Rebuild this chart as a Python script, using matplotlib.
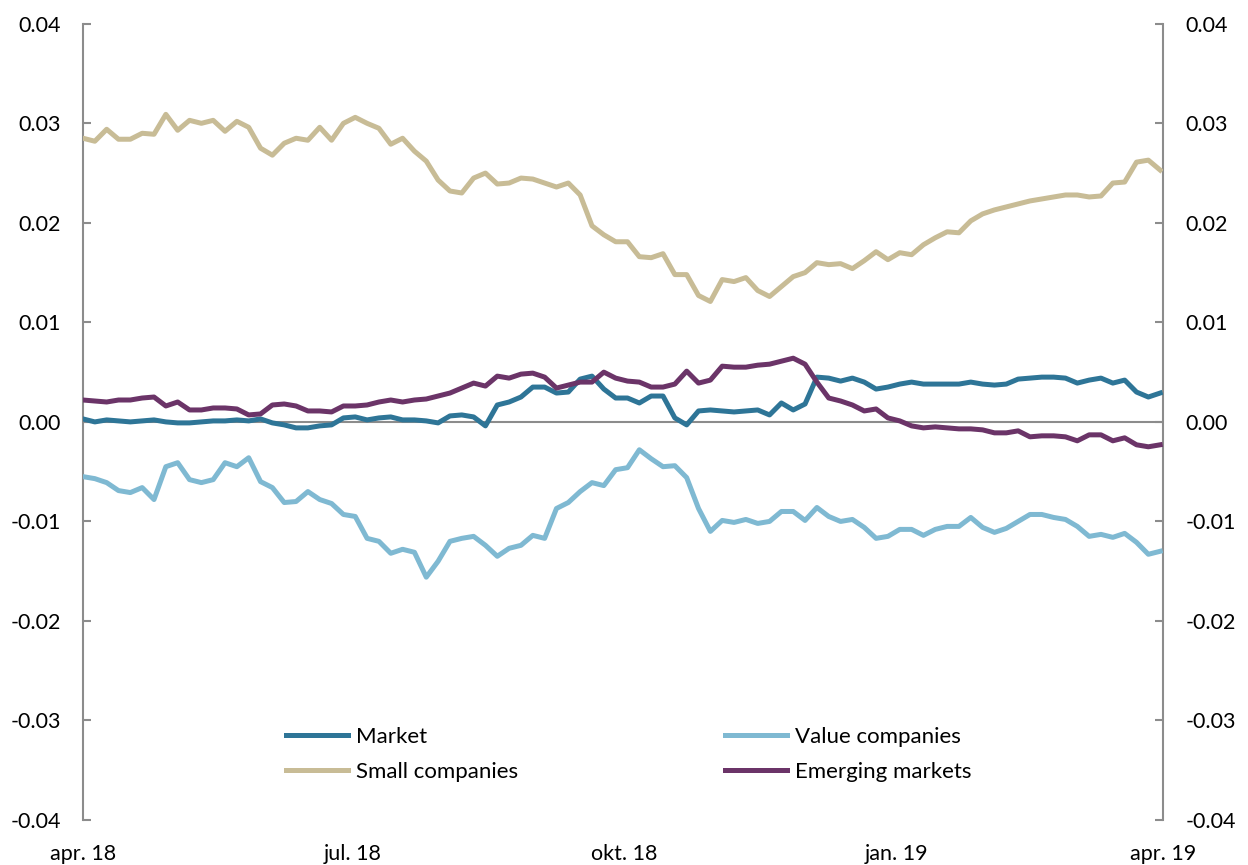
import matplotlib
matplotlib.use('Agg')
import matplotlib.pyplot as plt
import matplotlib.ticker as mticker
import pandas as pd

plt.rcParams['font.family'] = ['Lato', 'DejaVu Sans']

# one point every 4 days, apr. 2018 - mar. 2019
dates = pd.date_range('2018-04-01', periods=92, freq='4D')

market = [
    0.0003, 0.0000, 0.0002, 0.0001, 0.0000, 0.0001, 0.0002, 0.0000, -0.0001, -0.0001,
    0.0000, 0.0001, 0.0001, 0.0002, 0.0001, 0.0003, -0.0001, -0.0003, -0.0006, -0.0006,
    -0.0004, -0.0003, 0.0004, 0.0005, 0.0002, 0.0004, 0.0005, 0.0002, 0.0002, 0.0001,
    -0.0001, 0.0006, 0.0007, 0.0005, -0.0004, 0.0017, 0.0020, 0.0025, 0.0035, 0.0035,
    0.0029, 0.0030, 0.0043, 0.0046, 0.0033, 0.0024, 0.0024, 0.0019, 0.0026, 0.0026,
    0.0004, -0.0003, 0.0011, 0.0012, 0.0011, 0.0010, 0.0011, 0.0012, 0.0007, 0.0019,
    0.0012, 0.0018, 0.0045, 0.0044, 0.0041, 0.0044, 0.0040, 0.0033, 0.0035, 0.0038,
    0.0040, 0.0038, 0.0038, 0.0038, 0.0038, 0.0040, 0.0038, 0.0037, 0.0038, 0.0043,
    0.0044, 0.0045, 0.0045, 0.0044, 0.0039, 0.0042, 0.0044, 0.0039, 0.0042, 0.0030,
    0.0025, 0.0029]

value = [
    -0.0055, -0.0057, -0.0061, -0.0069, -0.0071, -0.0066, -0.0078, -0.0045, -0.0041, -0.0058,
    -0.0061, -0.0058, -0.0041, -0.0045, -0.0036, -0.0060, -0.0066, -0.0081, -0.0080, -0.0070,
    -0.0078, -0.0082, -0.0093, -0.0095, -0.0117, -0.0120, -0.0132, -0.0128, -0.0131, -0.0156,
    -0.0140, -0.0120, -0.0117, -0.0115, -0.0124, -0.0135, -0.0127, -0.0124, -0.0114, -0.0117,
    -0.0087, -0.0081, -0.0070, -0.0061, -0.0064, -0.0048, -0.0046, -0.0028, -0.0037, -0.0045,
    -0.0044, -0.0056, -0.0087, -0.0110, -0.0099, -0.0101, -0.0098, -0.0102, -0.0100, -0.0090,
    -0.0090, -0.0099, -0.0086, -0.0095, -0.0100, -0.0098, -0.0106, -0.0117, -0.0115, -0.0108,
    -0.0108, -0.0114, -0.0108, -0.0105, -0.0105, -0.0096, -0.0106, -0.0111, -0.0107, -0.0100,
    -0.0093, -0.0093, -0.0096, -0.0098, -0.0105, -0.0115, -0.0113, -0.0116, -0.0112, -0.0121,
    -0.0133, -0.0130]

small = [
    0.0285, 0.0282, 0.0294, 0.0284, 0.0284, 0.0290, 0.0289, 0.0309, 0.0293, 0.0303,
    0.0300, 0.0303, 0.0292, 0.0302, 0.0296, 0.0275, 0.0268, 0.0280, 0.0285, 0.0283,
    0.0296, 0.0283, 0.0300, 0.0306, 0.0300, 0.0295, 0.0279, 0.0285, 0.0272, 0.0262,
    0.0243, 0.0232, 0.0230, 0.0245, 0.0250, 0.0239, 0.0240, 0.0245, 0.0244, 0.0240,
    0.0236, 0.0240, 0.0228, 0.0197, 0.0188, 0.0181, 0.0181, 0.0166, 0.0165, 0.0169,
    0.0148, 0.0148, 0.0127, 0.0121, 0.0143, 0.0141, 0.0145, 0.0132, 0.0126, 0.0136,
    0.0146, 0.0150, 0.0160, 0.0158, 0.0159, 0.0154, 0.0162, 0.0171, 0.0163, 0.0170,
    0.0168, 0.0178, 0.0185, 0.0191, 0.0190, 0.0202, 0.0209, 0.0213, 0.0216, 0.0219,
    0.0222, 0.0224, 0.0226, 0.0228, 0.0228, 0.0226, 0.0227, 0.0240, 0.0241, 0.0261,
    0.0263, 0.0253]

emerging = [
    0.0022, 0.0021, 0.0020, 0.0022, 0.0022, 0.0024, 0.0025, 0.0016, 0.0020, 0.0012,
    0.0012, 0.0014, 0.0014, 0.0013, 0.0007, 0.0008, 0.0017, 0.0018, 0.0016, 0.0011,
    0.0011, 0.0010, 0.0016, 0.0016, 0.0017, 0.0020, 0.0022, 0.0020, 0.0022, 0.0023,
    0.0026, 0.0029, 0.0034, 0.0039, 0.0036, 0.0046, 0.0044, 0.0048, 0.0049, 0.0045,
    0.0034, 0.0037, 0.0040, 0.0040, 0.0050, 0.0044, 0.0041, 0.0040, 0.0035, 0.0035,
    0.0038, 0.0051, 0.0039, 0.0042, 0.0056, 0.0055, 0.0055, 0.0057, 0.0058, 0.0061,
    0.0064, 0.0058, 0.0040, 0.0024, 0.0021, 0.0017, 0.0011, 0.0013, 0.0004, 0.0001,
    -0.0004, -0.0006, -0.0005, -0.0006, -0.0007, -0.0007, -0.0008, -0.0011, -0.0011, -0.0009,
    -0.0015, -0.0014, -0.0014, -0.0015, -0.0019, -0.0013, -0.0013, -0.0019, -0.0016, -0.0023,
    -0.0025, -0.0023]

tick_dates = pd.to_datetime(['2018-04-01', '2018-07-01', '2018-10-01', '2019-01-01', '2019-04-01'])
tick_labels = ['apr. 18', 'jul. 18', 'okt. 18', 'jan. 19', 'apr. 19']

gray = '#8c8c8c'

fig = plt.figure(figsize=(12.48, 8.65), dpi=100)
ax = fig.add_axes([0.0665, 0.052, 0.8655, 0.9205])

ax.axhline(0, color=gray, lw=1.5, zorder=1)
l_market, = ax.plot(dates, market, color='#2e7597', lw=3.6, label='Market', zorder=3)
l_value, = ax.plot(dates, value, color='#7fb9d2', lw=3.6, label='Value companies', zorder=3)
l_small, = ax.plot(dates, small, color='#c8bc96', lw=3.6, label='Small companies', zorder=3)
l_emerg, = ax.plot(dates, emerging, color='#6b3468', lw=3.6, label='Emerging markets', zorder=3)

ax.set_xlim(tick_dates[0], tick_dates[-1])
ax.set_ylim(-0.04, 0.04)
ax.set_xticks(tick_dates)
ax.set_xticklabels(tick_labels)
ax.yaxis.set_major_locator(mticker.MultipleLocator(0.01))
ax.yaxis.set_major_formatter(mticker.FormatStrFormatter('%.2f'))

for s in ['top', 'bottom']:
    ax.spines[s].set_visible(False)
for s in ['left', 'right']:
    ax.spines[s].set_color(gray)
    ax.spines[s].set_linewidth(1.5)

ax.tick_params(axis='y', direction='in', length=6, width=1.5, color=gray,
               labelsize=15.5, pad=16, right=True, labelright=True)
ax.tick_params(axis='x', length=0, labelsize=15.5, pad=17)

ax.legend(handles=[l_market, l_small, l_value, l_emerg], ncol=2, frameon=False,
          loc='upper left', bbox_to_anchor=(0.229, 0.160), bbox_transform=fig.transFigure,
          fontsize=16, handlelength=2.8, handletextpad=0.35, columnspacing=9.3,
          labelspacing=0.7, borderpad=0, borderaxespad=0)

fig.savefig('out.png', dpi=100)
